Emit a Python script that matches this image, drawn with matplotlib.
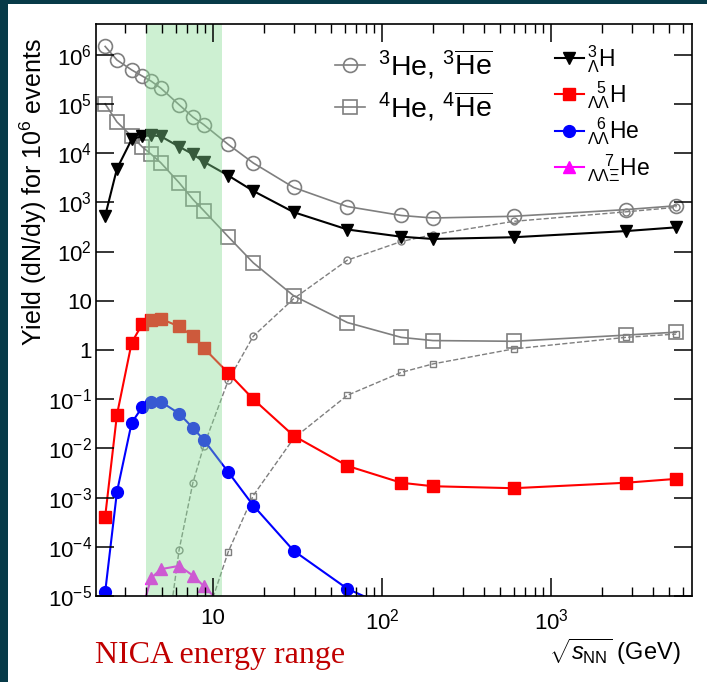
import matplotlib
matplotlib.use('Agg')
import matplotlib.pyplot as plt
from matplotlib.patches import Rectangle

plt.rcParams['font.family'] = ['Liberation Sans', 'DejaVu Sans']
plt.rcParams['mathtext.fontset'] = 'custom'
plt.rcParams['mathtext.rm'] = 'Liberation Sans'
plt.rcParams['mathtext.it'] = 'Liberation Sans:italic'
plt.rcParams['mathtext.bf'] = 'Liberation Sans:bold'

# collision energies sqrt(s_NN) in GeV
energy = [2.3, 2.7, 3.3, 3.8, 4.3, 4.9, 6.3, 7.6, 8.8, 12.3, 17.3, 30, 62.4,
          130, 200, 600, 2760, 5500]

he3 = [1.47e6, 7.8e5, 4.9e5, 3.7e5, 2.9e5, 2.1e5, 9.6e4, 5.4e4, 3.8e4, 1.5e4,
       6.3e3, 2.0e3, 8.2e2, 5.4e2, 4.8e2, 5.2e2, 7.1e2, 8.5e2]
he4 = [1.0e5, 4.3e4, 2.2e4, 1.35e4, 9.5e3, 6.4e3, 2.5e3, 1.15e3, 6.8e2, 2.0e2,
       59, 12.6, 3.6, 1.8, 1.55, 1.5, 2.0, 2.3]

anti_he3_energy = [4.9, 6.3, 7.6, 8.8, 12.3, 17.3, 30, 62.4, 130, 200, 600, 2760, 5500]
anti_he3 = [1.5e-7, 8.7e-5, 2.0e-3, 1.1e-2, 0.24, 1.9, 11, 67, 160, 220, 410, 640, 790]
anti_he4_energy = [8.8, 12.3, 17.3, 30, 62.4, 130, 200, 600, 2760, 5500]
anti_he4 = [2.5e-6, 7.9e-5, 1.1e-3, 1.6e-2, 0.12, 0.35, 0.52, 1.05, 1.8, 2.1]

h3_lambda = [5.3e2, 4.8e3, 1.9e4, 2.2e4, 2.3e4, 2.2e4, 1.35e4, 9.5e3, 6.7e3,
             3.5e3, 1.7e3, 6.3e2, 2.8e2, 2.0e2, 1.8e2, 1.95e2, 2.6e2, 3.1e2]
h5_ll = [4.1e-4, 0.048, 1.4, 3.3, 4.0, 4.3, 3.0, 1.9, 1.1, 0.34, 0.10, 0.018,
         4.4e-3, 2.0e-3, 1.7e-3, 1.55e-3, 2.0e-3, 2.4e-3]
he6_energy = [2.3, 2.7, 3.3, 3.8, 4.3, 4.9, 6.3, 7.6, 8.8, 12.3, 17.3, 30, 62.4, 130]
he6_ll = [1.2e-5, 1.3e-3, 0.033, 0.068, 0.089, 0.089, 0.051, 0.026, 0.015,
          3.3e-3, 6.9e-4, 8.3e-5, 1.4e-5, 4.5e-6]
he7_energy = [3.8, 4.3, 4.9, 6.3, 7.6, 8.8, 12.3]
he7_llxi = [5e-6, 2.3e-5, 3.5e-5, 4.1e-5, 2.6e-5, 1.6e-5, 5e-6]

nica_range = (4.0, 11.3)

ytick_vals = [1e-5, 1e-4, 1e-3, 1e-2, 1e-1, 1, 10, 1e2, 1e3, 1e4, 1e5, 1e6]
ytick_labels = ['10$^{-5}$', '10$^{-4}$', '10$^{-3}$', '10$^{-2}$', '10$^{-1}$',
                '1', '10', '10$^{2}$', '10$^{3}$', '10$^{4}$', '10$^{5}$', '10$^{6}$']
xtick_vals = [10, 100, 1000]
xtick_labels = ['10', '10$^{2}$', '10$^{3}$']

fig = plt.figure(figsize=(7.07, 6.82), dpi=100, facecolor='#073a48')
fig.patches.append(Rectangle((8 / 707, 0), 1, 1 - 4 / 682, transform=fig.transFigure,
                             facecolor='white', edgecolor='none', zorder=0))
ax = fig.add_axes([96 / 707, 1 - 596 / 682, 596 / 707, 572 / 682])
ax.set_zorder(1)
ax.patch.set_alpha(0)

gray = '#7f7f7f'
l_he3, = ax.plot(energy, he3, '-o', color=gray, lw=1.2, ms=10, mfc='none', mew=1.2)
l_he4, = ax.plot(energy, he4, '-s', color=gray, lw=1.2, ms=10, mfc='none', mew=1.2)
ax.plot(anti_he3_energy, anti_he3, '--o', color=gray, lw=1.0, ms=5, mfc='none', mew=1.0)
ax.plot(anti_he4_energy, anti_he4, '--s', color=gray, lw=1.0, ms=5, mfc='none', mew=1.0)

l_h3, = ax.plot(energy, h3_lambda, '-v', color='black', lw=1.5, ms=9)
l_h5, = ax.plot(energy, h5_ll, '-s', color='#ff0000', lw=1.5, ms=8.5)
l_he6, = ax.plot(he6_energy, he6_ll, '-o', color='#0000ff', lw=1.5, ms=8.5)
l_he7, = ax.plot(he7_energy, he7_llxi, '-^', color='#ff00ff', lw=1.5, ms=8.5)

ax.axvspan(*nica_range, color='#86dc92', alpha=0.41, lw=0, zorder=2.3)
ax.set_axisbelow(False)

ax.set_xscale('log')
ax.set_yscale('log')
ax.set_xlim(2.03, 6820)
ax.set_ylim(1e-5, 4.2e6)
ax.set_yticks(ytick_vals, ytick_labels)
ax.set_xticks(xtick_vals, xtick_labels)
ax.tick_params(which='both', direction='in', top=True, right=True, labelsize=16)
ax.tick_params(which='major', length=13, width=1.1)
ax.tick_params(which='minor', length=6.5, width=1.0)
ax.tick_params(axis='x', which='major', pad=9)
ax.tick_params(axis='y', which='major', pad=3)
for s in ax.spines.values():
    s.set_linewidth(1.2)

leg1 = ax.legend([l_he3, l_he4],
                 [r'$^{3}$He, $^{3}\overline{\rm He}$', r'$^{4}$He, $^{4}\overline{\rm He}$'],
                 loc='upper left', bbox_to_anchor=((335 - 96) / 596, (596 - 48) / 572),
                 frameon=False, fontsize=20.5, handlelength=1.05, handletextpad=0.45,
                 labelspacing=0.32, borderpad=0, borderaxespad=0)
ax.add_artist(leg1)
ax.legend([l_h3, l_h5, l_he6, l_he7],
          [r'$^{3}_{\Lambda}$H', r'$_{\Lambda\Lambda}^{\;\;\,5}$H',
           r'$_{\Lambda\Lambda}^{\;\;\,6}$He', r'$_{\Lambda\Lambda\Xi}^{\;\;\;\;\,7}$He'],
          loc='upper left', bbox_to_anchor=((555 - 96) / 596, (596 - 43) / 572),
          frameon=False, fontsize=16.5, handlelength=1.25, handletextpad=0.15,
          labelspacing=0.2, borderpad=0, borderaxespad=0)

ax.text(0.98, -0.098, r'$\sqrt{s_{\rm NN}}$ (GeV)', transform=ax.transAxes,
        ha='right', va='center', fontsize=17)
fig.text(33 / 707, 1 - 192 / 682, r'Yield (dN/dy) for 10$^{6}$ events', rotation=90,
         ha='center', va='center', fontsize=18)
fig.text(95 / 707, 1 - 655 / 682, 'NICA energy range', family=['Liberation Serif'],
         color='#c00000', fontsize=23, ha='left', va='center')

fig.savefig('out.png', dpi=100)
